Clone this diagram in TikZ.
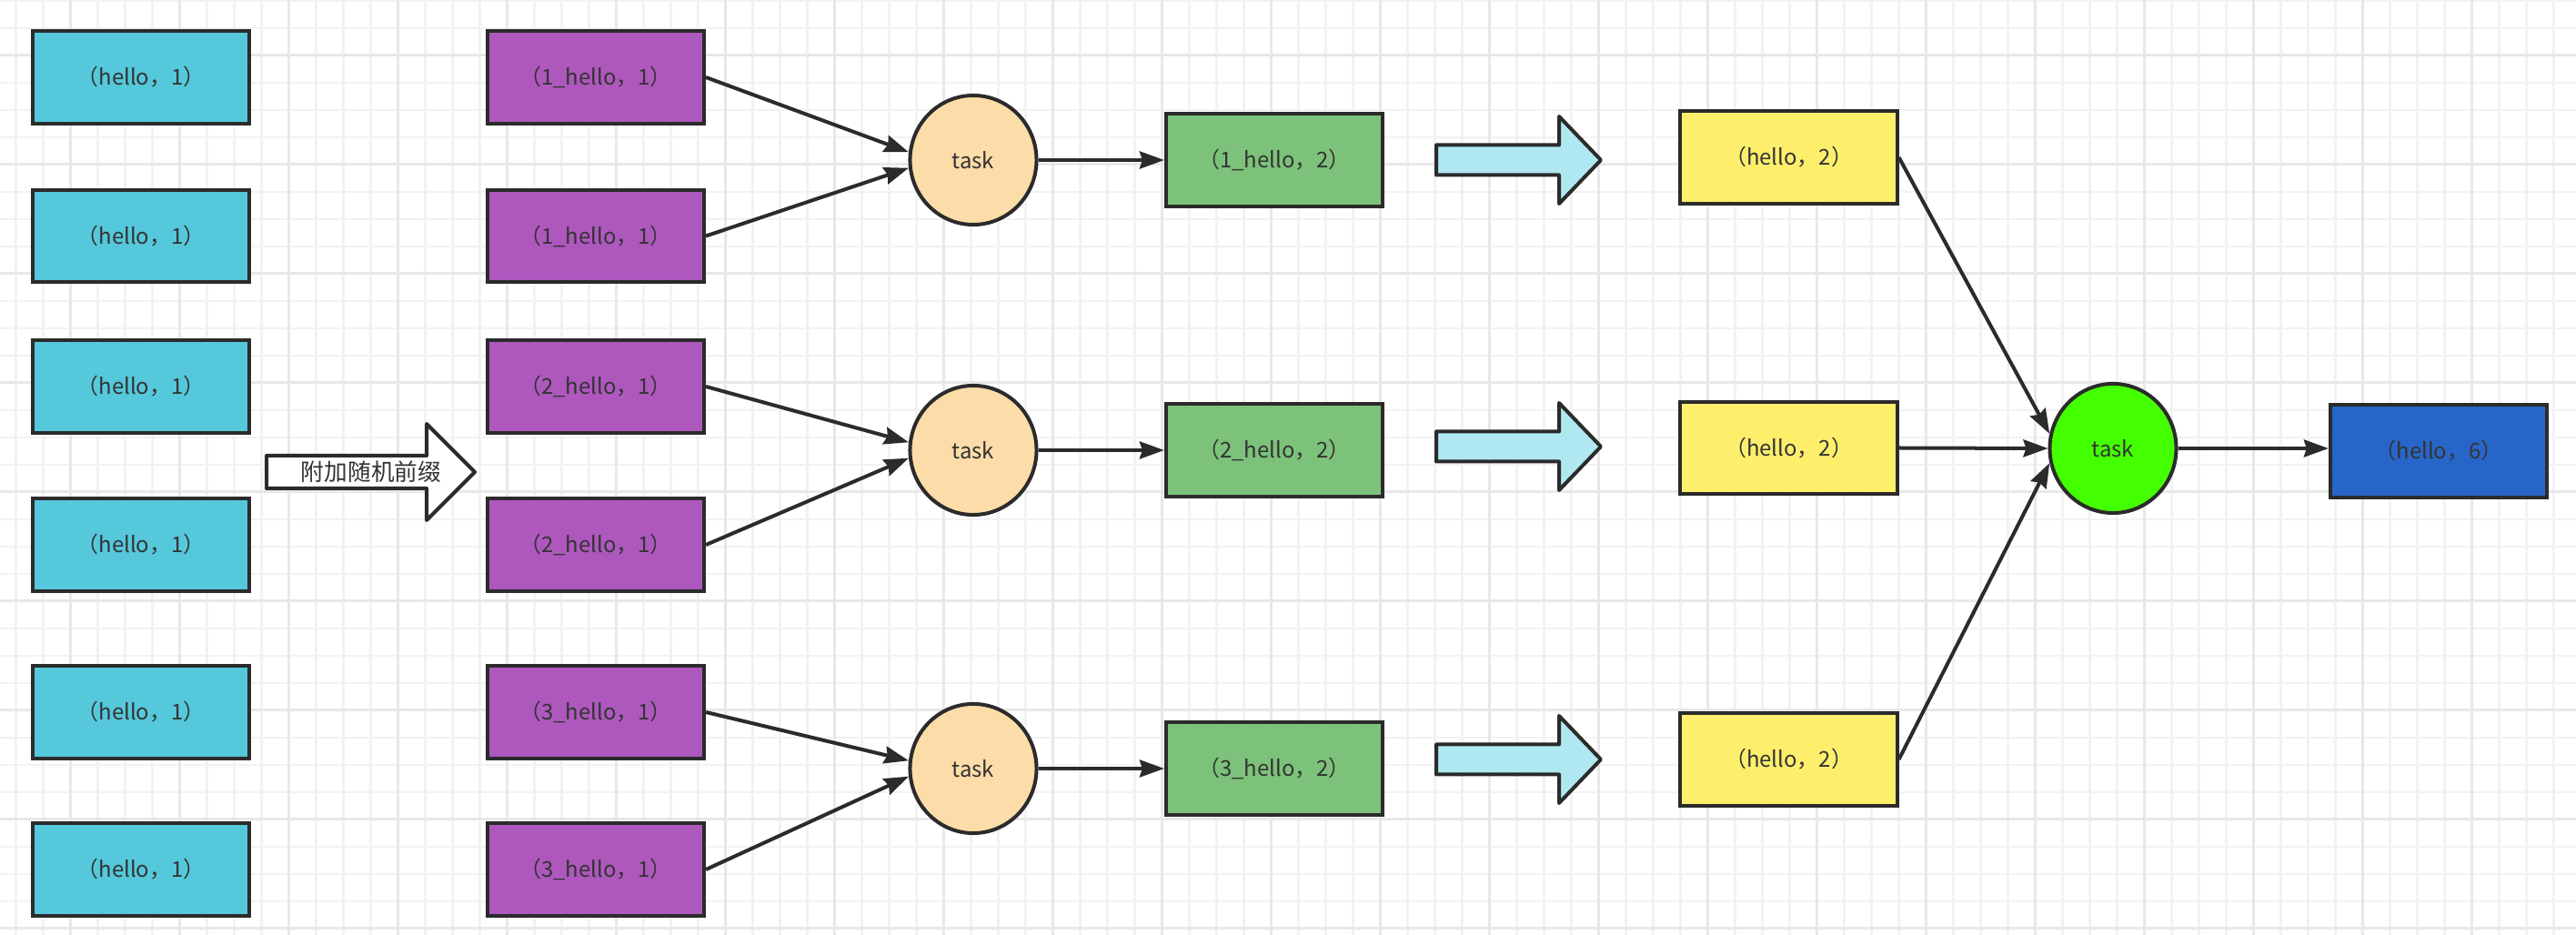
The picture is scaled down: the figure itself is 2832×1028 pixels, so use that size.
\documentclass[tikz,border=0pt]{standalone}
\usepackage{fontspec}
\setmainfont{Noto Sans CJK SC}
\usetikzlibrary{arrows.meta,calc}
\definecolor{strk}{HTML}{2B2B2B}
\definecolor{txtc}{HTML}{333333}
\definecolor{cyanbox}{HTML}{55C8DB}
\definecolor{purplebox}{HTML}{AE58BE}
\definecolor{orangec}{HTML}{FCDCA8}
\definecolor{greenbox}{HTML}{7CC27A}
\definecolor{lightcyan}{HTML}{AFE8F0}
\definecolor{yellowbox}{HTML}{FDEF6C}
\definecolor{brightgreen}{HTML}{44FF00}
\definecolor{bluebox}{HTML}{2766C8}
\definecolor{gridminor}{HTML}{F2F2F2}
\definecolor{gridmajor}{HTML}{E8E8E8}
\tikzset{
  box/.style={draw=strk, line width=0.04cm, rectangle, minimum width=2.38cm, minimum height=1.01cm, inner sep=0pt, text=txtc, font=\fontsize{6.8pt}{8pt}\selectfont},
  taskc/.style={draw=strk, line width=0.04cm, ellipse, minimum width=1.39cm, minimum height=1.42cm, inner sep=0pt, text=txtc, font=\fontsize{6.8pt}{8pt}\selectfont},
  conn/.style={draw=strk, line width=0.04cm, -{Stealth[length=0.27cm, width=0.19cm, inset=0.03cm]}},
  fatarrow/.style={draw=strk, line width=0.04cm, line join=round},
  lbl/.style={inner sep=0pt, text=txtc, font=\fontsize{7.3pt}{8.5pt}\selectfont}
}
\usetikzlibrary{shapes.geometric}
\newcommand\mkfatarrow[1]{%
  \path[fatarrow, fill=lightcyan] (1579,#1-16.5) -- (1714,#1-16.5) -- (1714,#1-48) -- (1760,#1) -- (1714,#1+48) -- (1714,#1+16.5) -- (1579,#1+16.5) -- cycle;}
\begin{document}
\begin{tikzpicture}[x=0.01cm, y=-0.01cm]
\useasboundingbox (0,0) rectangle (2832,1028);
\fill[white] (0,0) rectangle (2832,1028);
% grid
\foreach \i in {0,...,94} { \draw[gridminor, line width=0.025cm] (17.5+30*\i,0) -- (17.5+30*\i,1028); }
\foreach \i in {0,...,34} { \draw[gridminor, line width=0.025cm] (0,1+30*\i) -- (2832,1+30*\i); }
\foreach \i in {0,...,23} { \draw[gridmajor, line width=0.03cm] (77.5+120*\i,0) -- (77.5+120*\i,1028); }
\foreach \i in {0,...,8} { \draw[gridmajor, line width=0.03cm] (0,61+120*\i) -- (2832,61+120*\i); }

% cyan boxes
\node[box, fill=cyanbox] (c1) at (155,85) {（hello，1）};
\node[box, fill=cyanbox] (c2) at (155,259.5) {（hello，1）};
\node[box, fill=cyanbox] (c3) at (155,425) {（hello，1）};
\node[box, fill=cyanbox] (c4) at (155,599) {（hello，1）};
\node[box, fill=cyanbox] (c5) at (155,783) {（hello，1）};
\node[box, fill=cyanbox] (c6) at (155,956) {（hello，1）};

% hollow arrow
\path[fatarrow, fill=white] (293,501) -- (469,501) -- (469,466) -- (522,519) -- (469,572) -- (469,537) -- (293,537) -- cycle;
\node[lbl] (prefix) at (408,519) {附加随机前缀};

% purple boxes
\node[box, fill=purplebox] (p1) at (655,85) {（1\_hello，1）};
\node[box, fill=purplebox] (p2) at (655,259.5) {（1\_hello，1）};
\node[box, fill=purplebox] (p3) at (655,425) {（2\_hello，1）};
\node[box, fill=purplebox] (p4) at (655,599) {（2\_hello，1）};
\node[box, fill=purplebox] (p5) at (655,783) {（3\_hello，1）};
\node[box, fill=purplebox] (p6) at (655,956) {（3\_hello，1）};

% tasks
\node[taskc, fill=orangec] (t1) at (1070,176) {task};
\node[taskc, fill=orangec] (t2) at (1070,495) {task};
\node[taskc, fill=orangec] (t3) at (1070,845) {task};

% green boxes
\node[box, fill=greenbox] (g1) at (1401,176) {（1\_hello，2）};
\node[box, fill=greenbox] (g2) at (1401,495) {（2\_hello，2）};
\node[box, fill=greenbox] (g3) at (1401,845) {（3\_hello，2）};

% fat cyan arrows
\mkfatarrow{176}
\mkfatarrow{491}
\mkfatarrow{835}

% yellow boxes
\node[box, fill=yellowbox] (y1) at (1966.5,173) {（hello，2）};
\node[box, fill=yellowbox] (y2) at (1966.5,492.5) {（hello，2）};
\node[box, fill=yellowbox] (y3) at (1966.5,835) {（hello，2）};

% final task and result
\node[taskc, fill=brightgreen] (gc) at (2323,493) {task};
\node[box, fill=bluebox] (bl) at (2681,496) {（hello，6）};

% connectors
\draw[conn] (p1.east) -- (t1.173);
\draw[conn] (p2.east) -- (t1.187);
\draw[conn] (p3.east) -- (t2.173);
\draw[conn] (p4.east) -- (t2.187);
\draw[conn] (p5.east) -- (t3.173);
\draw[conn] (p6.east) -- (t3.187);
\draw[conn] (t1.east) -- (g1.west);
\draw[conn] (t2.east) -- (g2.west);
\draw[conn] (t3.east) -- (g3.west);
\draw[conn] (y1.east) -- (gc.167);
\draw[conn] (y2.east) -- (gc.west);
\draw[conn] (y3.east) -- (gc.193);
\draw[conn] (gc.east) -- (gc.east -| bl.west);
\end{tikzpicture}
\end{document}
